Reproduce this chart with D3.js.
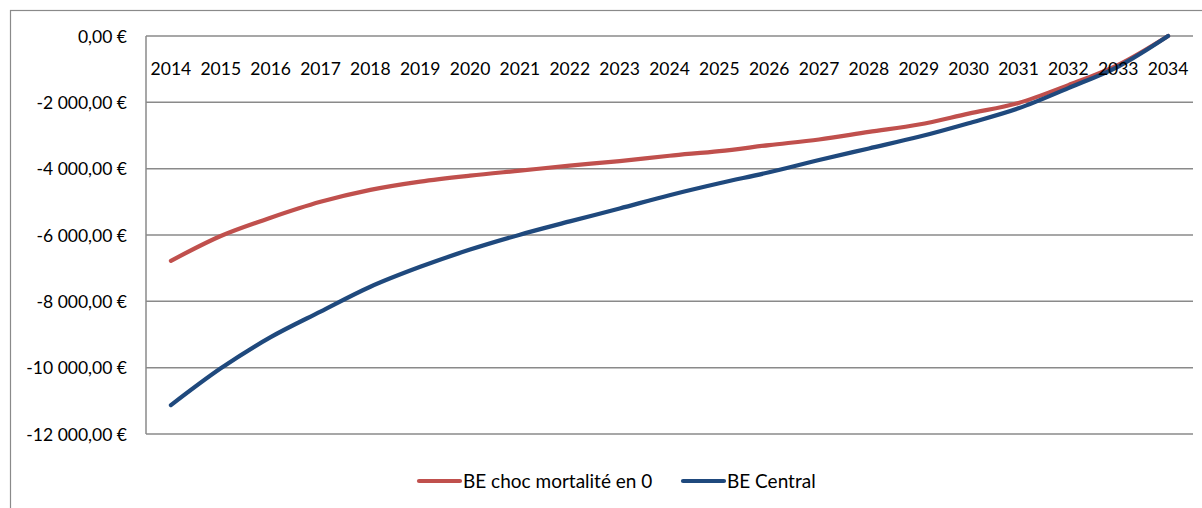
<!DOCTYPE html>
<html>
<head>
<meta charset="utf-8">
<script src="https://cdn.jsdelivr.net/npm/d3@7"></script>
<style>
  html, body { margin: 0; padding: 0; background: #fff; }
  svg { display: block; }
  text { font-family: Lato, "Open Sans", sans-serif; fill: #000; }
</style>
</head>
<body>
<svg id="chart" width="1202" height="508"></svg>
<script>
// Years on the category axis
const years = ["2014","2015","2016","2017","2018","2019","2020","2021","2022","2023","2024",
               "2025","2026","2027","2028","2029","2030","2031","2032","2033","2034"];

// Best estimate under the mortality shock at t=0 (EUR)
const beChoc = [-6780, -6030, -5480, -5000, -4640, -4390, -4210, -4060, -3910, -3770, -3610,
                -3470, -3290, -3120, -2890, -2670, -2340, -2020, -1480, -870, 0];

// Central best estimate (EUR)
const beCentral = [-11130, -10020, -9080, -8310, -7560, -6960, -6440, -5990, -5590, -5200, -4800,
                   -4440, -4110, -3740, -3390, -3040, -2630, -2180, -1570, -920, 0];

// Value axis ticks
const yTicks = [0, -2000, -4000, -6000, -8000, -10000, -12000];

const seriesNames = ["BE choc mortalité en 0", "BE Central"];
const seriesColors = ["#C0504D", "#1F497D"];

const svg = d3.select("#chart");

const plot = { left: 146, right: 1193, top: 36, bottom: 434 };

const x = d3.scaleBand().domain(years).range([plot.left, plot.right]).padding(0);
const y = d3.scaleLinear().domain([-12000, 0]).range([plot.bottom, plot.top]);

const fr = d3.formatLocale({
  decimal: ",", thousands: " ", grouping: [3], currency: ["", " €"], minus: "-"
});
const fmt = fr.format("$,.2f");

// Outer chart frame
svg.append("rect")
  .attr("x", 10.5).attr("y", 10.5)
  .attr("width", 1220).attr("height", 600)
  .attr("fill", "none").attr("stroke", "#8a8a8a").attr("stroke-width", 1.2);

// Horizontal gridlines
svg.append("g").selectAll("line").data(yTicks).join("line")
  .attr("x1", plot.left).attr("x2", plot.right)
  .attr("y1", d => y(d)).attr("y2", d => y(d))
  .attr("stroke", "#8a8a8a").attr("stroke-width", 1.5);

// Value axis line
svg.append("line")
  .attr("x1", plot.left).attr("x2", plot.left)
  .attr("y1", y(0)).attr("y2", y(-12000))
  .attr("stroke", "#8a8a8a").attr("stroke-width", 1.5);

// Value axis labels
svg.append("g").selectAll("text").data(yTicks).join("text")
  .attr("x", 127).attr("y", d => y(d) + 6.5)
  .attr("text-anchor", "end")
  .attr("font-size", 17.5)
  .text(d => fmt(d));

// Series lines
const line = d3.line()
  .x((d, i) => x(years[i]) + x.bandwidth() / 2)
  .y(d => y(d))
  .curve(d3.curveCatmullRom.alpha(0.5));

[beChoc, beCentral].forEach((vals, k) => {
  svg.append("path")
    .datum(vals)
    .attr("d", line)
    .attr("fill", "none")
    .attr("stroke", seriesColors[k])
    .attr("stroke-width", 4.2)
    .attr("stroke-linecap", "round")
    .attr("stroke-linejoin", "round");
});

// Category labels (axis crosses at 0)
svg.append("g").selectAll("text").data(years).join("text")
  .attr("x", d => x(d) + x.bandwidth() / 2)
  .attr("y", 74.5)
  .attr("text-anchor", "middle")
  .attr("font-size", 17.5)
  .text(d => d);

// Legend
const legendItems = [
  { x0: 419, name: seriesNames[0], color: seriesColors[0] },
  { x0: 683, name: seriesNames[1], color: seriesColors[1] }
];
const lg = svg.append("g").selectAll("g").data(legendItems).join("g");
lg.append("line")
  .attr("x1", d => d.x0).attr("x2", d => d.x0 + 41)
  .attr("y1", 481).attr("y2", 481)
  .attr("stroke", d => d.color).attr("stroke-width", 4.2)
  .attr("stroke-linecap", "round");
lg.append("text")
  .attr("x", d => d.x0 + 44).attr("y", 487.5)
  .attr("font-size", 19)
  .text(d => d.name);
</script>
</body>
</html>
